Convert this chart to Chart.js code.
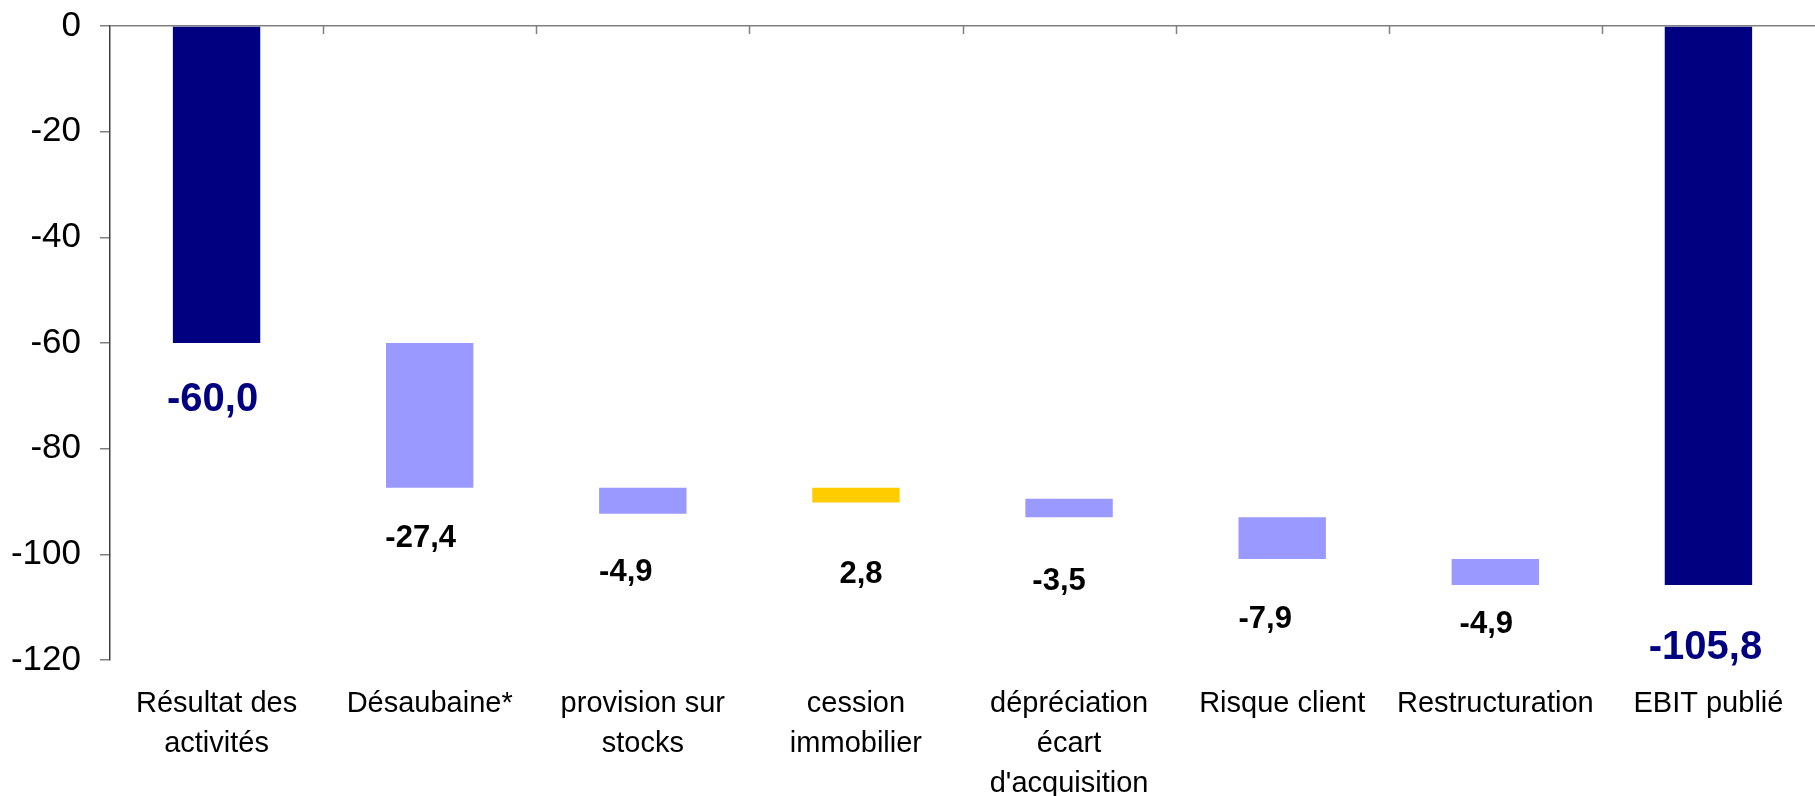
<!DOCTYPE html>
<html lang="fr">
<head>
<meta charset="utf-8">
<title>Du résultat des activités à l'EBIT publié</title>
<script src="https://cdn.jsdelivr.net/npm/chart.js@4/dist/chart.umd.min.js"></script>
<style>
  html, body { margin: 0; padding: 0; background: #ffffff; }
  #wrap { position: relative; width: 1815px; height: 796px; }
</style>
</head>
<body>
<div id="wrap"><canvas id="chart"></canvas></div>
<script>
// Categories of the bridge, from the operating result to the published EBIT
const categories = [
  ['Résultat des', 'activités'],
  'Désaubaine*',
  ['provision sur', 'stocks'],
  ['cession', 'immobilier'],
  ['dépréciation', 'écart', "d'acquisition"],
  'Risque client',
  'Restructuration',
  'EBIT publié'
];

// Amount of each step (M€); first and last are totals
const values = [-60.0, -27.4, -4.9, 2.8, -3.5, -7.9, -4.9, -105.8];

// Level each floating bar starts from
const barFrom = [0, -60.0, -87.4, -90.2, -89.5, -93.0, -100.9, 0];

// Value axis ticks
const yTicks = [0, -20, -40, -60, -80, -100, -120];

const NAVY = '#000080';
const STEP = '#9999FF';
const GAIN = '#FFCC00';
const FONT = '"Liberation Sans", Arial, Helvetica, sans-serif';

const lastIndex = values.length - 1;
const isTotal = i => i === 0 || i === lastIndex;

// Floating bar ranges built from the start level and the step amount
const ranges = values.map((v, i) => [barFrom[i], +(barFrom[i] + v).toFixed(1)]);

// Value label placement below each bar (pixel nudges)
const labelDx = [-4, -9, -17, 5, -10, -17, -9, -3];
const labelDy = [57, 51, 59, 72, 64, 60, 39, 63];

const valueLabels = {
  id: 'valueLabels',
  afterDatasetsDraw(chart) {
    const ctx = chart.ctx;
    const meta = chart.getDatasetMeta(0);
    ctx.save();
    ctx.textAlign = 'center';
    ctx.textBaseline = 'middle';
    meta.data.forEach((bar, i) => {
      const bottom = Math.max(bar.y, bar.base);
      const text = values[i].toFixed(1).replace('.', ',');
      if (isTotal(i)) {
        ctx.font = 'bold 40px ' + FONT;
        ctx.fillStyle = NAVY;
      } else {
        ctx.font = 'bold 31px ' + FONT;
        ctx.fillStyle = '#000000';
      }
      ctx.fillText(text, bar.x + labelDx[i], bottom + labelDy[i]);
    });
    ctx.restore();
  }
};

// Short category separators hanging from the zero line
const categoryMarks = {
  id: 'categoryMarks',
  afterDatasetsDraw(chart) {
    const x = chart.scales.x;
    const y0 = chart.scales.y.getPixelForValue(0);
    const ctx = chart.ctx;
    ctx.save();
    ctx.strokeStyle = '#808080';
    ctx.lineWidth = 1.5;
    ctx.beginPath();
    for (let i = 1; i < categories.length; i++) {
      const px = Math.round((x.getPixelForValue(i - 1) + x.getPixelForValue(i)) / 2) + 0.5;
      ctx.moveTo(px, y0);
      ctx.lineTo(px, y0 + 8);
    }
    ctx.stroke();
    ctx.restore();
  }
};

new Chart(document.getElementById('chart'), {
  type: 'bar',
  data: {
    labels: categories,
    datasets: [{
      data: ranges,
      backgroundColor: ctx => isTotal(ctx.dataIndex) ? NAVY : (values[ctx.dataIndex] > 0 ? GAIN : STEP),
      borderWidth: 0,
      borderSkipped: false,
      barPercentage: 0.41,
      categoryPercentage: 1.0
    }]
  },
  options: {
    responsive: true,
    maintainAspectRatio: false,
    animation: false,
    layout: { padding: { top: 25, right: 0, left: 0, bottom: 0 } },
    plugins: {
      legend: { display: false },
      tooltip: { enabled: false }
    },
    scales: {
      x: {
        position: 'bottom',
        border: { display: false },
        grid: { display: false, drawTicks: false },
        ticks: {
          autoSkip: false,
          maxRotation: 0,
          minRotation: 0,
          padding: 24,
          color: '#000000',
          font: { family: FONT, size: 29, lineHeight: 1.38 }
        },
        afterFit(scale) { scale.height = 136; }
      },
      y: {
        min: -120,
        max: 0,
        afterBuildTicks(scale) { scale.ticks = yTicks.map(v => ({ value: v })); },
        border: { display: true, color: '#404040', width: 1.5 },
        grid: {
          drawOnChartArea: true,
          drawTicks: true,
          tickLength: 10,
          lineWidth: 1.5,
          color: ctx => (ctx.tick && ctx.tick.value === 0) ? '#808080' : 'rgba(0,0,0,0)',
          tickColor: '#808080'
        },
        ticks: {
          padding: 19,
          color: '#000000',
          font: { family: FONT, size: 35, lineHeight: 0.4 },
          callback: v => String(v)
        },
        afterFit(scale) { scale.width = 110; }
      }
    }
  },
  plugins: [valueLabels, categoryMarks]
});
</script>
</body>
</html>
